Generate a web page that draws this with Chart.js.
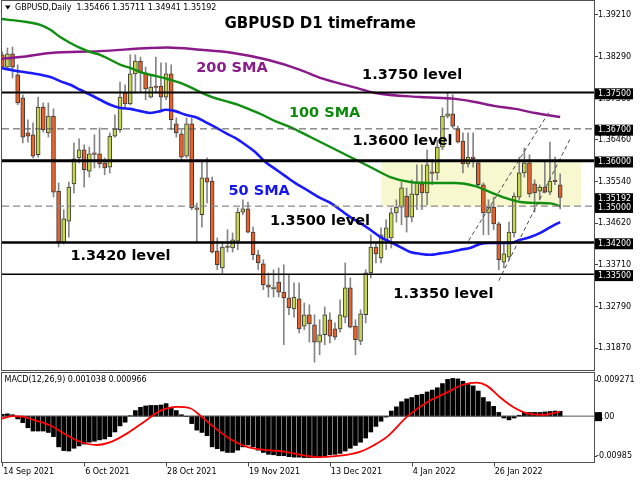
<!DOCTYPE html>
<html>
<head>
<meta charset="utf-8">
<script src="https://cdn.jsdelivr.net/npm/chart.js@4.4.1/dist/chart.umd.min.js"></script>
<style>
  html, body { margin: 0; padding: 0; background: #fff; }
  #wrap { position: relative; width: 640px; height: 480px; overflow: hidden; background: #fff; }
  canvas { position: absolute; left: 0; }
  #priceChart { top: 0; }
  #macdChart { top: 372px; }
</style>
</head>
<body>
<div id="wrap">
  <canvas id="priceChart" width="640" height="372"></canvas>
  <canvas id="macdChart" width="640" height="108"></canvas>
</div>
<script>
// GBPUSD daily candles, one per trading day from 14 Sep 2021 (index 0)
const opens = [
  1.3833, 1.3806, 1.3835, 1.3789, 1.3738, 1.3661, 1.3657, 1.3613, 1.3718, 1.3661,
  1.3698, 1.3533, 1.3421, 1.3467, 1.3549, 1.3606, 1.3624, 1.3577, 1.3615, 1.3615,
  1.3595, 1.3586, 1.3654, 1.3668, 1.3749, 1.3725, 1.3791, 1.3819, 1.3793, 1.3740,
  1.3762, 1.3764, 1.3740, 1.3791, 1.3681, 1.3659, 1.3610, 1.3681, 1.3494, 1.3481,
  1.3562, 1.3555, 1.3401, 1.3364, 1.3410, 1.3408, 1.3423, 1.3487, 1.3494, 1.3443,
  1.3393, 1.3373, 1.3327, 1.3318, 1.3333, 1.3311, 1.3298, 1.3274, 1.3296, 1.3236,
  1.3261, 1.3239, 1.3201, 1.3217, 1.3250, 1.3230, 1.3230, 1.3256, 1.3320, 1.3236,
  1.3203, 1.3261, 1.3353, 1.3410, 1.3386, 1.3426, 1.3430, 1.3485, 1.3498, 1.3522,
  1.3476, 1.3525, 1.3549, 1.3529, 1.3573, 1.3573, 1.3630, 1.3698, 1.3703, 1.3670,
  1.3643, 1.3593, 1.3608, 1.3595, 1.3547, 1.3485, 1.3498, 1.3461, 1.3377, 1.3388,
  1.3441, 1.3520, 1.3573, 1.3595, 1.3549, 1.3533, 1.3542, 1.3531, 1.3555, 1.35466
];
const highs = [
  1.3839, 1.3848, 1.3850, 1.3811, 1.3745, 1.3690, 1.3683, 1.3740, 1.3727, 1.3727,
  1.3714, 1.3551, 1.3492, 1.3553, 1.3639, 1.3648, 1.3635, 1.3630, 1.3657, 1.3672,
  1.3606, 1.3661, 1.3701, 1.3773, 1.3767, 1.3833, 1.3833, 1.3828, 1.3806, 1.3789,
  1.3828, 1.3815, 1.3815, 1.3811, 1.3694, 1.3668, 1.3694, 1.3694, 1.3507, 1.3597,
  1.3606, 1.3564, 1.3430, 1.3421, 1.3448, 1.3441, 1.3496, 1.3514, 1.3509, 1.3454,
  1.3403, 1.3382, 1.3353, 1.3360, 1.3364, 1.3371, 1.3349, 1.3331, 1.3331, 1.3287,
  1.3283, 1.3261, 1.3250, 1.3278, 1.3265, 1.3243, 1.3294, 1.3375, 1.3342, 1.3250,
  1.3272, 1.3360, 1.3437, 1.3421, 1.3452, 1.3470, 1.3496, 1.3514, 1.3553, 1.3540,
  1.3558, 1.3591, 1.3591, 1.3624, 1.3602, 1.3646, 1.3716, 1.3749, 1.3745, 1.3676,
  1.3661, 1.3661, 1.3661, 1.3597, 1.3551, 1.3514, 1.3520, 1.3465, 1.3419, 1.3465,
  1.3529, 1.3608, 1.3628, 1.3613, 1.3558, 1.3547, 1.3597, 1.3641, 1.3608, 1.35711
];
const lows = [
  1.3804, 1.3804, 1.3782, 1.3723, 1.3639, 1.3641, 1.3606, 1.3608, 1.3663, 1.3652,
  1.3520, 1.3410, 1.3417, 1.3432, 1.3529, 1.3595, 1.3542, 1.3564, 1.3584, 1.3584,
  1.3569, 1.3573, 1.3652, 1.3663, 1.3716, 1.3723, 1.3749, 1.3751, 1.3734, 1.3738,
  1.3749, 1.3712, 1.3734, 1.3668, 1.3652, 1.3602, 1.3606, 1.3492, 1.3421, 1.3454,
  1.3507, 1.3397, 1.3360, 1.3353, 1.3399, 1.3399, 1.3404, 1.3481, 1.3441, 1.3382,
  1.3360, 1.3316, 1.3300, 1.3300, 1.3300, 1.3195, 1.3261, 1.3256, 1.3221, 1.3228,
  1.3201, 1.3157, 1.3173, 1.3195, 1.3199, 1.3206, 1.3223, 1.3243, 1.3232, 1.3173,
  1.3195, 1.3243, 1.3342, 1.3375, 1.3375, 1.3404, 1.3408, 1.3465, 1.3459, 1.3443,
  1.3465, 1.3492, 1.3492, 1.3503, 1.3547, 1.3558, 1.3624, 1.3694, 1.3672, 1.3639,
  1.3573, 1.3586, 1.3586, 1.3542, 1.3437, 1.3437, 1.3448, 1.3360, 1.3364, 1.3382,
  1.3432, 1.3514, 1.3564, 1.3520, 1.3487, 1.3514, 1.3529, 1.3525, 1.3547, 1.34941
];
const closes = [
  1.3806, 1.3835, 1.3806, 1.3727, 1.3652, 1.3654, 1.3610, 1.3718, 1.3668, 1.3698,
  1.3531, 1.3421, 1.3472, 1.3542, 1.3604, 1.3624, 1.3580, 1.3615, 1.3614, 1.3593,
  1.3584, 1.3654, 1.3670, 1.3740, 1.3725, 1.3791, 1.3819, 1.3793, 1.3758, 1.3762,
  1.3761, 1.3740, 1.3791, 1.3690, 1.3661, 1.3608, 1.3681, 1.3496, 1.3493, 1.3562,
  1.3553, 1.3399, 1.3371, 1.3410, 1.3409, 1.3426, 1.3487, 1.3494, 1.3443, 1.3393,
  1.3375, 1.3327, 1.3322, 1.3322, 1.3311, 1.3298, 1.3276, 1.3300, 1.3230, 1.3261,
  1.3241, 1.3201, 1.3217, 1.3261, 1.3214, 1.3212, 1.3261, 1.3320, 1.3234, 1.3206,
  1.3263, 1.3353, 1.3410, 1.3395, 1.3437, 1.3452, 1.3485, 1.3498, 1.3540, 1.3476,
  1.3527, 1.3553, 1.3529, 1.3591, 1.3572, 1.3630, 1.3698, 1.3703, 1.3676, 1.3641,
  1.3593, 1.3608, 1.3604, 1.3547, 1.3485, 1.3498, 1.3461, 1.3382, 1.3395, 1.3443,
  1.3522, 1.3573, 1.3595, 1.3527, 1.3529, 1.3542, 1.3531, 1.3555, 1.3554, 1.35192
];

// moving averages, sampled along the curves (candle index, price)
const sma50Idx = [-0.4, 2.5, 5.5, 9.4, 11.3, 13.3, 15.2, 17.2, 19.1, 21.1, 23.1, 25, 27, 28.9, 30.9, 31.8, 33.8, 35.8,
  37.7, 39.7, 41.6, 43.6, 45.5, 47.5, 49.4, 51.4, 53.3, 55.3, 57.2, 60.2, 62.1, 64.1, 66, 68, 69.9, 71.9, 73.9,
  75.8, 77.8, 79.7, 81.7, 83.6, 85.6, 87.5, 89.5, 91.4, 93.4, 95.3, 99.3, 101.2, 103.2, 105.1, 107.1, 109];
const sma50Val = [1.3804, 1.3798, 1.3793, 1.3784, 1.3775, 1.3767, 1.3756, 1.3745, 1.3734, 1.3723, 1.3716, 1.3714,
  1.3709, 1.3705, 1.3709, 1.3712, 1.3709, 1.3701, 1.3696, 1.3685, 1.3674, 1.3661, 1.3650, 1.3635, 1.3619, 1.3597,
  1.3582, 1.3566, 1.3551, 1.3531, 1.3518, 1.3507, 1.3492, 1.3476, 1.3463, 1.3448, 1.3432, 1.3421, 1.3410, 1.3399,
  1.3395, 1.3393, 1.3396, 1.3399, 1.3404, 1.3408, 1.3417, 1.3419, 1.3419, 1.3426, 1.3432, 1.3441, 1.3454, 1.3465];
const sma100Idx = [-0.4, 3.5, 7.4, 9.4, 11.3, 13.3, 15.2, 17.2, 19.1, 21.1, 23.1, 25, 27, 28.9, 30.9, 32.8, 34.8,
  36.7, 38.7, 41, 43.6, 46.1, 48.5, 50.8, 53.3, 56.3, 60.2, 64.1, 68, 71.9, 75.8, 79.7, 83.6, 88.5, 92.4, 95.3,
  98.3, 101.2, 104.1, 107.1, 109];
const sma100Val = [1.3912, 1.3907, 1.3899, 1.3888, 1.3872, 1.3859, 1.3848, 1.3839, 1.3833, 1.3822, 1.3811, 1.3804,
  1.3795, 1.3789, 1.3784, 1.3778, 1.3771, 1.3762, 1.3751, 1.3740, 1.3731, 1.3723, 1.3712, 1.3701, 1.3687, 1.3674,
  1.3652, 1.3630, 1.3608, 1.3586, 1.3564, 1.3553, 1.3551, 1.3551, 1.3544, 1.3531, 1.3518, 1.3509, 1.3507, 1.3506, 1.3500];
const sma200Idx = [-0.4, 3.5, 9.4, 19.1, 28.9, 32.2, 38.7, 45.1, 51.8, 58.2, 62.1, 68.6, 72.9, 81.7, 88.5, 92.4,
  96.3, 100.2, 104.1, 109];
const sma200Val = [1.3824, 1.3828, 1.3837, 1.3841, 1.3848, 1.3849, 1.3844, 1.3837, 1.3822, 1.3800, 1.3782, 1.3762,
  1.3749, 1.3740, 1.3736, 1.3729, 1.3720, 1.3714, 1.3705, 1.3696];

// MACD(12,26,9): histogram per candle, signal sampled along the red curve
const macdHist = [
  0.0004, 0.0005, 0.0003, -0.0006, -0.0014, -0.0025, -0.0032, -0.0032, -0.0032, -0.0035,
  -0.0044, -0.0066, -0.0074, -0.0075, -0.0069, -0.0064, -0.0060, -0.0056, -0.0054, -0.0051,
  -0.0049, -0.0044, -0.0034, -0.0021, -0.0013, 0.0001, 0.0012, 0.0019, 0.0022, 0.0023,
  0.0023, 0.0024, 0.0027, 0.0019, 0.0012, 0.0003, -0.0001, -0.0016, -0.0030, -0.0035,
  -0.0042, -0.0066, -0.0070, -0.0075, -0.0078, -0.0078, -0.0073, -0.0066, -0.0062, -0.0066,
  -0.0073, -0.0078, -0.0082, -0.0083, -0.0085, -0.0085, -0.0087, -0.0088, -0.0088, -0.0089,
  -0.0089, -0.0089, -0.0087, -0.0085, -0.0083, -0.0082, -0.0080, -0.0075, -0.0069, -0.0063,
  -0.0056, -0.0047, -0.0034, -0.0022, -0.0011, -0.0002, 0.0011, 0.0020, 0.0031, 0.0037,
  0.0040, 0.0045, 0.0047, 0.0052, 0.0056, 0.0061, 0.0070, 0.0079, 0.0081, 0.0080,
  0.0075, 0.0068, 0.0065, 0.0054, 0.0040, 0.0031, 0.0021, 0.0008, -0.0004, -0.0008,
  -0.0004, 0.0002, 0.0008, 0.0008, 0.0008, 0.0008, 0.0009, 0.0010, 0.0011, 0.00104
];
const signalIdx = [-0.4, 2, 4, 6.1, 9.4, 12.6, 15.2, 18.5, 21.1, 24.4, 27.6, 30.9, 34.1, 36.7, 38.7, 41.3, 44.5,
  47.8, 51.7, 55, 58.2, 62.1, 66, 70, 72.5, 75.2, 79.2, 83, 86.9, 90.1, 92.7, 94.7, 97.3, 99.9, 102.5, 105.8, 109];
const signalVal = [-0.0006, 0.0000, -0.0001, -0.0008, -0.0020, -0.0041, -0.0055, -0.0062, -0.0056, -0.0037, -0.0013,
  0.0012, 0.0020, 0.0017, 0.0001, -0.0023, -0.0049, -0.0066, -0.0073, -0.0076, -0.0083, -0.0088, -0.0085, -0.0076,
  -0.0063, -0.0044, 0.0000, 0.0030, 0.0051, 0.0068, 0.0072, 0.0065, 0.0040, 0.0019, 0.0006, 0.0003, 0.00097];

// horizontal levels, price scale ticks, date ticks
const levels = [1.375, 1.367, 1.36, 1.35, 1.342, 1.335];
const priceTicks = [1.3921, 1.3829, 1.3736, 1.3646, 1.3554, 1.3462, 1.3371, 1.3279, 1.3187];
const priceBoxes = [1.375, 1.367, 1.36, 1.35192, 1.35, 1.342, 1.335];
const dateIdx = [0, 16, 32, 48, 64, 80, 96];
const dateLabels = ['14 Sep 2021', '6 Oct 2021', '28 Oct 2021', '19 Nov 2021', '13 Dec 2021', '4 Jan 2022', '26 Jan 2022'];

// drawn objects: rising channel and the shaded range
const trendAIdx = [91.1, 107.1], trendAVal = [1.3424, 1.3712];
const trendBIdx = [97.0, 111.0], trendBVal = [1.3336, 1.3649];
const zoneIdx = [74.05, 113.07], zoneVal = [1.35, 1.36];

// ---- look ----
const xMin = -0.06, xMax = 115.61;
const yMin = 1.31395, yMax = 1.39513;
const macdMin = -0.00985, macdMax = 0.009271;
const FONT = '"DejaVu Sans"';
const bullColor = '#c8d64e', bearColor = '#ea6229', candleEdge = '#3a3a3a', wickColor = '#858585';
const frameColor = '#505050';
const levelWidth = [2, 1, 3, 1.4, 2.5, 1.5];
const levelDash = [[], [7, 4], [], [7, 4], [], []];
const levelColor = ['#000', '#505050', '#000', '#8a8a8a', '#000', '#000'];

const notes = [
  { text: 'GBPUSD D1 timeframe', x: 43.4, y: 1.3901, color: '#000', size: 15 },
  { text: '200 SMA', x: 37.9, y: 1.3803, color: '#8b1c8b', size: 14.5 },
  { text: '1.3750 level', x: 70.3, y: 1.3787, color: '#000', size: 14.5 },
  { text: '100 SMA', x: 56.0, y: 1.3704, color: '#0b8a0b', size: 14.5 },
  { text: '1.3600 level', x: 68.4, y: 1.3642, color: '#000', size: 14.5 },
  { text: '50 SMA', x: 44.2, y: 1.3532, color: '#1515f0', size: 14.5 },
  { text: '1.3500 level', x: 52.3, y: 1.3467, color: '#000', size: 14.5 },
  { text: '1.3420 level', x: 13.3, y: 1.3390, color: '#000', size: 14.5 },
  { text: '1.3350 level', x: 76.4, y: 1.3307, color: '#000', size: 14.5 }
];

const pts = (xs, ys) => xs.map((x, i) => ({ x: x, y: ys[i] }));

function fixRightAxis(scale) {
  scale.width = 46;
  scale.paddingTop = 0;
  scale.paddingBottom = 0;
}

// ---- price panel ----
const priceDecor = {
  id: 'priceDecor',
  beforeDatasetsDraw(chart) {
    const { ctx, scales: { x, y } } = chart;
    const x0 = x.getPixelForValue(zoneIdx[0]), x1 = x.getPixelForValue(zoneIdx[1]);
    const y0 = y.getPixelForValue(zoneVal[1]), y1 = y.getPixelForValue(zoneVal[0]);
    ctx.save();
    ctx.fillStyle = '#f7f7d0';
    ctx.fillRect(x0, y0, x1 - x0, y1 - y0);
    ctx.restore();
  },
  afterDraw(chart) {
    const { ctx, chartArea: a, scales: { x, y } } = chart;
    ctx.save();
    // frame
    ctx.strokeStyle = frameColor;
    ctx.lineWidth = 1;
    ctx.strokeRect(a.left - 0.5, a.top - 0.5, a.right - a.left + 1, a.bottom - a.top + 1);

    // header line
    ctx.fillStyle = '#000';
    ctx.beginPath();
    ctx.moveTo(5, 5.5); ctx.lineTo(10.5, 5.5); ctx.lineTo(7.75, 9.5); ctx.closePath();
    ctx.fill();
    ctx.font = '8px ' + FONT;
    ctx.textBaseline = 'middle';
    ctx.textAlign = 'left';
    ctx.fillText('GBPUSD,Daily  1.35466 1.35711 1.34941 1.35192', 15, 8);

    // chart notes
    notes.forEach(n => {
      ctx.font = 'bold ' + n.size + 'px ' + FONT;
      ctx.fillStyle = n.color;
      ctx.fillText(n.text, x.getPixelForValue(n.x), y.getPixelForValue(n.y));
    });

    // boxed prices on the axis
    ctx.font = '8px ' + FONT;
    priceBoxes.forEach(v => {
      const py = y.getPixelForValue(v) + 1.3;
      ctx.fillStyle = '#000';
      ctx.fillRect(a.right + 1, py - 5.5, 38, 11);
      ctx.fillStyle = '#fff';
      ctx.fillText(v.toFixed(5), a.right + 4, py);
    });
    ctx.restore();
  }
};

const levelSets = levels.map((v, i) => ({
  type: 'line',
  data: [{ x: xMin, y: v }, { x: xMax, y: v }],
  borderColor: levelColor[i],
  borderWidth: levelWidth[i],
  borderDash: levelDash[i],
  pointRadius: 0,
  order: 0
}));

new Chart(document.getElementById('priceChart'), {
  type: 'bar',
  data: {
    datasets: [
      ...levelSets,
      { type: 'line', data: pts(trendAIdx, trendAVal), borderColor: '#4a4a4a', borderWidth: 1, borderDash: [4, 3], pointRadius: 0, order: 1 },
      { type: 'line', data: pts(trendBIdx, trendBVal), borderColor: '#4a4a4a', borderWidth: 1, borderDash: [4, 3], pointRadius: 0, order: 1 },
      { type: 'line', data: pts(sma50Idx, sma50Val), borderColor: '#1a1aff', borderWidth: 2.6, pointRadius: 0, cubicInterpolationMode: 'monotone', order: 2 },
      { type: 'line', data: pts(sma100Idx, sma100Val), borderColor: '#118f11', borderWidth: 2.4, pointRadius: 0, cubicInterpolationMode: 'monotone', order: 2 },
      { type: 'line', data: pts(sma200Idx, sma200Val), borderColor: '#8a1a8a', borderWidth: 2.4, pointRadius: 0, cubicInterpolationMode: 'monotone', order: 2 },
      {
        data: opens.map((o, i) => ({ x: i, y: [o, closes[i]] })),
        backgroundColor: ctx => closes[ctx.dataIndex] >= opens[ctx.dataIndex] ? bullColor : bearColor,
        borderColor: candleEdge,
        borderWidth: 1,
        borderSkipped: false,
        barThickness: 4,
        minBarLength: 1.5,
        grouped: false,
        order: 3
      },
      {
        data: lows.map((l, i) => ({ x: i, y: [l, highs[i]] })),
        backgroundColor: wickColor,
        borderWidth: 0,
        barThickness: 1,
        grouped: false,
        order: 4
      }
    ]
  },
  options: {
    responsive: false,
    animation: false,
    events: [],
    layout: { padding: { left: 2, right: 0, top: 1, bottom: 2 } },
    plugins: { legend: { display: false }, tooltip: { enabled: false } },
    scales: {
      x: { type: 'linear', min: xMin, max: xMax, offset: false, display: false },
      y: {
        type: 'linear',
        position: 'right',
        min: yMin,
        max: yMax,
        afterBuildTicks: s => { s.ticks = priceTicks.map(v => ({ value: v })); },
        afterFit: fixRightAxis,
        border: { display: false },
        grid: { drawOnChartArea: false, drawTicks: true, tickLength: 4, color: '#444' },
        ticks: {
          autoSkip: false,
          padding: 0,
          color: '#000',
          font: { family: 'DejaVu Sans', size: 8 },
          callback: v => v.toFixed(5)
        }
      }
    }
  },
  plugins: [priceDecor]
});

// ---- MACD panel ----
const macdDecor = {
  id: 'macdDecor',
  afterDraw(chart) {
    const { ctx, chartArea: a, scales: { x, y } } = chart;
    ctx.save();
    ctx.strokeStyle = frameColor;
    ctx.lineWidth = 1;
    ctx.strokeRect(a.left - 0.5, a.top - 0.5, a.right - a.left + 1, a.bottom - a.top + 1);

    ctx.fillStyle = '#000';
    ctx.font = '8px ' + FONT;
    ctx.textBaseline = 'middle';
    ctx.textAlign = 'left';
    ctx.fillText('MACD(12,26,9) 0.001038 0.000966', 4.5, a.top + 7);

    // right scale
    const yTop = a.top + 7, yBot = a.bottom - 6, yZero = y.getPixelForValue(0) + 0.5;
    ctx.beginPath();
    [yTop, yBot].forEach(py => { ctx.moveTo(a.right, Math.round(py) + 0.5); ctx.lineTo(a.right + 3, Math.round(py) + 0.5); });
    ctx.strokeStyle = '#444';
    ctx.stroke();
    ctx.fillText('0.009271', a.right + 2.5, yTop);
    ctx.fillText('-0.00985', a.right + 2, yBot);
    ctx.fillRect(a.right + 1, yZero - 4.5, 7, 9);
    ctx.fillText('0.00', a.right + 2.5, yZero);

    // date axis
    ctx.beginPath();
    dateIdx.forEach(d => {
      const px = Math.round(x.getPixelForValue(d)) + 0.5;
      ctx.moveTo(px, a.bottom + 1);
      ctx.lineTo(px, a.bottom + 4.5);
    });
    ctx.stroke();
    dateIdx.forEach((d, i) => {
      ctx.fillText(dateLabels[i], x.getPixelForValue(d) + 1, a.bottom + 9.7);
    });
    ctx.restore();
  }
};

new Chart(document.getElementById('macdChart'), {
  type: 'bar',
  data: {
    datasets: [
      { type: 'line', data: pts(signalIdx, signalVal), borderColor: '#ff0000', borderWidth: 1.8, pointRadius: 0, cubicInterpolationMode: 'monotone', order: 0 },
      { type: 'line', data: [{ x: xMin, y: 0 }, { x: xMax, y: 0 }], borderColor: '#555', borderWidth: 1, pointRadius: 0, order: 1 },
      {
        data: macdHist.map((v, i) => ({ x: i, y: v })),
        backgroundColor: '#000',
        borderWidth: 0,
        barThickness: 4,
        grouped: false,
        order: 2
      }
    ]
  },
  options: {
    responsive: false,
    animation: false,
    events: [],
    layout: { padding: { left: 2, right: 0, top: 1, bottom: 18 } },
    plugins: { legend: { display: false }, tooltip: { enabled: false } },
    scales: {
      x: { type: 'linear', min: xMin, max: xMax, offset: false, display: false },
      y: {
        type: 'linear',
        position: 'right',
        min: macdMin,
        max: macdMax,
        afterFit: fixRightAxis,
        border: { display: false },
        grid: { display: false },
        ticks: { display: false }
      }
    }
  },
  plugins: [macdDecor]
});
</script>
</body>
</html>
